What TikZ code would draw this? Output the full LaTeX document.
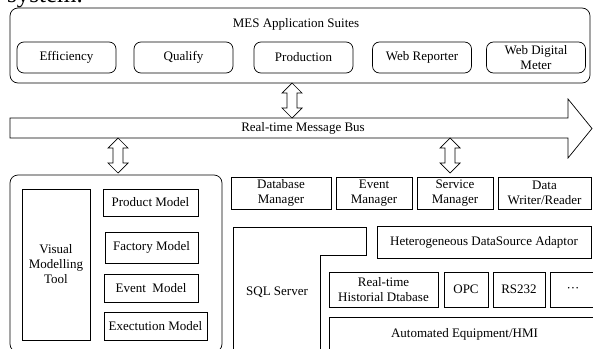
\documentclass[tikz,border=0pt]{standalone}
\usepackage{fontspec}
\setmainfont{Liberation Serif}
\begin{document}
\begin{tikzpicture}[x=1pt,y=-1pt,
  every node/.style={font=\fontsize{13}{15}\selectfont, align=center, inner sep=0pt},
  frame/.style={draw, line width=0.7pt},
  box/.style={frame, rectangle},
  rbox/.style={frame, rectangle, rounded corners=7pt},
  outline/.style={line width=0.7pt, line join=miter},
  label/.style={draw=none}
]
\useasboundingbox (0,0) rectangle (593,348);
\clip (0,0) rectangle (593,348);

% vertical double-headed hollow arrow: x, top y, bottom y
\newcommand{\vdblarrow}[3]{%
  \draw[outline] (#1-5,#2+10) -- (#1-10,#2+10) -- (#1,#2) -- (#1+10,#2+10) -- (#1+5,#2+10)
    -- (#1+5,#3-10) -- (#1+10,#3-10) -- (#1,#3) -- (#1-10,#3-10) -- (#1-5,#3-10) -- cycle;}

% running text above the figure
\node[anchor=base west, font=\fontsize{25}{25}\selectfont] (caption) at (7,2.5) {system.};

% application layer
\node[frame, rounded corners=8pt, minimum width=580pt, minimum height=75pt] (mes) at (300,45.5) {};
\node[label] (mestitle) at (296,24) {MES Application Suites};
\node[rbox, minimum width=99pt, minimum height=31pt] (eff)  at (66.5,57.5) {Efficiency};
\node[rbox, minimum width=99pt, minimum height=31pt] (qual) at (183.5,57.5) {Qualify};
\node[rbox, minimum width=99pt, minimum height=31pt] (prod) at (303.5,57.5) {Production};
\node[rbox, minimum width=99pt, minimum height=31pt] (webr) at (422,57.5) {Web Reporter};
\node[rbox, minimum width=99pt, minimum height=31pt] (webd) at (536,57.5) {Web Digital\\Meter};

% message bus
\draw[outline] (10,118) -- (568,118) -- (568,99) -- (592,128.5) -- (568,158) -- (568,138) -- (10,138) -- cycle;
\node[label] (bus) at (303,128) {Real-time Message Bus};

% links to the bus
\vdblarrow{292}{83}{118}
\vdblarrow{118}{138}{173}
\vdblarrow{450}{138}{173}

% modelling tool
\node[frame, rounded corners=8pt, minimum width=212pt, minimum height=177pt] (model) at (116,263.5) {};
\node[box, minimum width=68pt, minimum height=151pt] (vmt) at (56,264.5) {Visual\\Modelling\\Tool};
\node[box, minimum width=95pt, minimum height=27pt] (pm) at (150.5,202.5) {Product Model};
\node[box, minimum width=93pt, minimum height=31pt] (fm) at (151.5,247.5) {Factory Model};
\node[box, minimum width=94pt, minimum height=28pt] (em) at (151,288) {Event~~Model};
\node[box, minimum width=103pt, minimum height=28pt] (xm) at (155.5,326) {Exectution Model};

% managers
\node[box, minimum width=100pt, minimum height=32pt] (dbm) at (281,193) {Database\\Manager};
\node[box, minimum width=76pt, minimum height=32pt] (evm) at (374,193) {Event\\Manager};
\node[box, minimum width=76pt, minimum height=32pt] (svm) at (455,193) {Service\\Manager};
\node[box, minimum width=93pt, minimum height=32pt] (dwr) at (544.5,193) {Data\\Writer/Reader};

% data layer
\draw[outline] (233,352) -- (233,227) -- (366,227) -- (366,255) -- (320,255) -- (320,352);
\node[label] (sql) at (277,292) {SQL Server};
\node[box, minimum width=214pt, minimum height=32pt] (hda) at (484,242) {Heterogeneous DataSource Adaptor};
\node[box, minimum width=109pt, minimum height=35pt] (rthd) at (383.5,289.5) {Real-time\\Historial Dtabase};
\node[box, minimum width=44pt, minimum height=35pt] (opc) at (466,289.5) {OPC};
\node[box, minimum width=52pt, minimum height=35pt] (rs) at (519,289.5) {RS232};
\node[box, minimum width=46pt, minimum height=35pt] (more) at (573,289.5) {···};
\node[box, minimum width=271pt, minimum height=35pt] (aeq) at (464.5,334.5) {Automated Equipment/HMI};
\end{tikzpicture}
\end{document}
